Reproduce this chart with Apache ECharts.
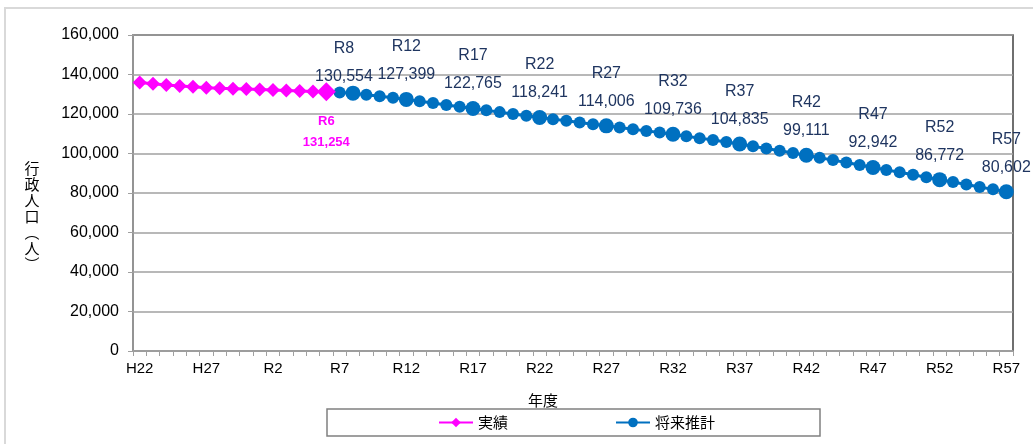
<!DOCTYPE html>
<html>
<head>
<meta charset="utf-8">
<script src="https://cdn.jsdelivr.net/npm/echarts@6/dist/echarts.min.js"></script>
<style>
  html, body { margin: 0; padding: 0; background: #ffffff; }
  #chart { width: 1033px; height: 444px; }
</style>
</head>
<body>
<div id="chart"></div>
<script>
// ---- Data ----
const categories = [
  'H22','H23','H24','H25','H26','H27','H28','H29','H30',
  'R1','R2','R3','R4','R5','R6','R7','R8','R9','R10',
  'R11','R12','R13','R14','R15','R16','R17','R18','R19','R20',
  'R21','R22','R23','R24','R25','R26','R27','R28','R29','R30',
  'R31','R32','R33','R34','R35','R36','R37','R38','R39','R40',
  'R41','R42','R43','R44','R45','R46','R47','R48','R49','R50',
  'R51','R52','R53','R54','R55','R56','R57'
];
// 実績 (H22 - R6)
const actualValues = [
  136000, 135300, 134700, 134200, 133800, 133300, 133000, 132800,
  132600, 132400, 132200, 131900, 131600, 131400, 131254
];
// 将来推計 (R7 - R57)
const forecastValues = [
  130900, 130554, 129800, 129000, 128200, 127399, 126450, 125550, 124600, 123700,
  122765, 121850, 120950, 120050, 119150, 118241, 117400, 116550, 115700, 114850,
  114006, 113150, 112300, 111450, 110600, 109736, 108750, 107780, 106800, 105820,
  104835, 103700, 102550, 101400, 100250, 99111, 97880, 96650, 95420, 94180,
  92942, 91700, 90470, 89240, 88000, 86772, 85540, 84300, 83070, 81840,
  80602
];
const forecastLabelYears = ['R8','R12','R17','R22','R27','R32','R37','R42','R47','R52','R57'];
const actualLabelYears = ['R6'];
const seriesNames = ['実績', '将来推計'];
const yTicks = [0, 20000, 40000, 60000, 80000, 100000, 120000, 140000, 160000];

// ---- Build ----
const fmt = v => Number(v).toLocaleString('en-US');
const forecastStart = categories.length - forecastValues.length;
const shiftedLabelIndex = categories.indexOf('R8');

const actualData = categories.map((c, i) => {
  if (i >= actualValues.length) return null;
  const v = actualValues[i];
  if (actualLabelYears.includes(c)) {
    return { value: v, symbolSize: [19, 19], label: { show: true } };
  }
  return v;
});
const forecastData = categories.map((c, i) => {
  if (i < forecastStart) return null;
  const v = forecastValues[i - forecastStart];
  if (forecastLabelYears.includes(c)) {
    return { value: v, symbolSize: 15, label: { show: true } };
  }
  return v;
});

const chart = echarts.init(document.getElementById('chart'), null, { renderer: 'canvas' });
const numFont = '"Liberation Sans", Arial, sans-serif';
const jpFont = '"Noto Sans CJK JP", sans-serif';

chart.setOption({
  animation: false,
  backgroundColor: '#ffffff',
  grid: {
    left: 133, right: 20, top: 35, bottom: 93,
    show: true, borderColor: '#404040', borderWidth: 1.5, backgroundColor: 'transparent'
  },
  graphic: [
    { type: 'rect', shape: { x: 5, y: 8, width: 1100, height: 500 },
      style: { fill: 'none', stroke: '#d9d9d9', lineWidth: 2 }, z: -10, silent: true },
    { type: 'text', x: 32, y: 160,
      style: { text: '行\n政\n人\n口\n︵\n人\n︶', font: '15px "Noto Sans CJK JP"', fill: '#000',
               align: 'center', lineHeight: 16 } },
    { type: 'text', x: 543, y: 400,
      style: { text: '年度', font: '15px "Noto Sans CJK JP"', fill: '#000',
               align: 'center', verticalAlign: 'middle' } }
  ],
  legend: {
    data: seriesNames,
    left: 327, top: 409,
    padding: [6, 105, 6, 111],
    itemGap: 107,
    itemWidth: 34, itemHeight: 12,
    borderColor: '#808080', borderWidth: 1.5,
    textStyle: { fontFamily: jpFont, fontSize: 15, color: '#000' }
  },
  xAxis: {
    type: 'category',
    data: categories,
    boundaryGap: true,
    axisLine: { lineStyle: { color: '#a0a0a0', width: 1.5 } },
    axisTick: { show: true, interval: 0, length: 5, lineStyle: { color: '#a0a0a0' } },
    axisLabel: { interval: 4, margin: 10, color: '#000', fontSize: 15, fontFamily: numFont }
  },
  yAxis: {
    type: 'value',
    min: yTicks[0], max: yTicks[yTicks.length - 1], interval: yTicks[1] - yTicks[0],
    axisLine: { show: true, lineStyle: { color: '#a0a0a0', width: 1.5 } },
    axisTick: { show: true, length: 5, lineStyle: { color: '#a0a0a0' } },
    axisLabel: { margin: 14, color: '#000', fontSize: 16, fontFamily: numFont, formatter: v => fmt(v) },
    splitLine: { lineStyle: { color: '#a0a0a0', width: 1.5 } }
  },
  series: [
    {
      name: seriesNames[0],
      type: 'line',
      data: actualData,
      symbol: 'diamond',
      symbolSize: [14, 14],
      showSymbol: true,
      showAllSymbol: true,
      z: 3,
      lineStyle: { color: '#ff00ff', width: 3 },
      itemStyle: { color: '#ff00ff' },
      labelLayout: { hideOverlap: false },
      label: {
        show: false,
        position: 'bottom',
        distance: 10,
        formatter: p => '{n|' + p.name + '}\n{v|' + fmt(p.value) + '}',
        rich: {
          n: { fontSize: 13, fontWeight: 'bold', color: '#ff00ff', lineHeight: 21, fontFamily: numFont },
          v: { fontSize: 13, fontWeight: 'bold', color: '#ff00ff', lineHeight: 21, fontFamily: numFont }
        }
      }
    },
    {
      name: seriesNames[1],
      type: 'line',
      data: forecastData,
      symbol: 'circle',
      symbolSize: 12,
      showSymbol: true,
      showAllSymbol: true,
      z: 2,
      lineStyle: { color: '#0070c0', width: 3 },
      itemStyle: { color: '#0070c0' },
      labelLayout: p => (p.dataIndex === shiftedLabelIndex
        ? { hideOverlap: false, dx: -9, dy: 8 }
        : { hideOverlap: false }),
      label: {
        show: false,
        position: 'top',
        distance: 3,
        formatter: p => '{n|' + p.name + '}\n{v|' + fmt(p.value) + '}',
        rich: {
          n: { fontSize: 16, color: '#1f3560', lineHeight: 28, fontFamily: numFont },
          v: { fontSize: 16, color: '#1f3560', lineHeight: 28, fontFamily: numFont }
        }
      }
    }
  ]
});
</script>
</body>
</html>
